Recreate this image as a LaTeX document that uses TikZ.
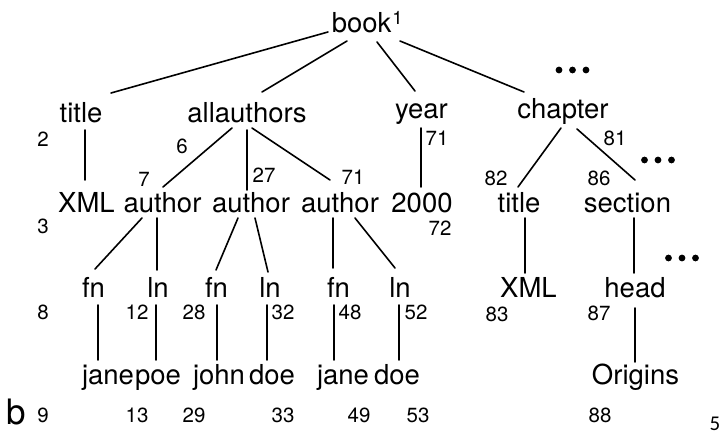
\documentclass[tikz,border=0pt]{standalone}
\usepackage{fontspec}
\setmainfont{TeX Gyre Heros}
\newfontfamily\pagefont{Carlito}
\usetikzlibrary{calc}
\newcommand\edgeln[4]{\draw ($(#1)+(#2)$) -- ($(#3)+(#4)$);}
\newcommand\threedots[1]{\foreach \d in {-13.5,0,13.5} \fill ($(#1)+(\d,0)$) circle (3.4);}
\begin{document}
\begin{tikzpicture}[x=1pt,y=-1pt,
  lbl/.style={font=\fontsize{27.5}{30}\selectfont, inner sep=0pt, anchor=base},
  num/.style={font=\fontsize{20.5}{22}\selectfont, inner sep=0pt},
  every path/.style={line width=1.6pt, line cap=round}]
\useasboundingbox (0,0) rectangle (724,435);
% row 1
\node[lbl, anchor=base west] (book) at (331,33) {book\kern1pt\raisebox{8pt}{\fontsize{18.5}{19}\selectfont 1}};
% row 2
\node[lbl] (t1) at (81,123) {title};
\node[lbl] (all) at (247,123) {allauthors};
\node[lbl] (year) at (421.5,119) {year};
\node[lbl] (chap) at (563,119) {chapter};
% row 3
\node[lbl] (xml1) at (86.5,213) {XML};
\node[lbl] (au1) at (162.5,213) {author};
\node[lbl] (au2) at (251,213) {author};
\node[lbl] (au3) at (340,213) {author};
\node[lbl] (y2000) at (422,213) {2000};
\node[lbl] (t2) at (519,213) {title};
\node[lbl] (sec) at (627.5,213) {section};
% row 4
\node[lbl] (fn1) at (93.5,298) {fn};
\node[lbl] (ln1) at (158,298) {ln};
\node[lbl] (fn2) at (216.5,298) {fn};
\node[lbl] (ln2) at (270,298) {ln};
\node[lbl] (fn3) at (338.5,298) {fn};
\node[lbl] (ln3) at (400,298) {ln};
\node[lbl] (xml2) at (528.5,298) {XML};
\node[lbl] (head) at (635,298) {head};
% row 5
\node[lbl] (jane1) at (108,385) {jane};
\node[lbl] (poe) at (158,385) {poe};
\node[lbl] (john) at (219,385) {john};
\node[lbl] (doe1) at (272,385) {doe};
\node[lbl] (jane2) at (343,385) {jane};
\node[lbl] (doe2) at (397,385) {doe};
\node[lbl] (orig) at (635.5,385) {Origins};
% b and page number
\node[inner sep=0pt, anchor=base west, font=\fontsize{35}{36}\selectfont] (blabel) at (6,425) {b};
\node[inner sep=0pt, anchor=base east, font=\pagefont\fontsize{21}{23}\selectfont] (pagenum) at (721,431) {5};
% numbers
\node[num] (n2) at (43,139) {2};
\node[num] (n6) at (182,146) {6};
\node[num] (n7) at (144,179) {7};
\node[num] (n27) at (264,175) {27};
\node[num] (n71a) at (353,177) {71};
\node[num] (n71b) at (437,138) {71};
\node[num] (n81) at (615,138) {81};
\node[num] (n82) at (496,178) {82};
\node[num] (n86) at (599,178) {86};
\node[num] (n3) at (43,226) {3};
\node[num] (n72) at (440,228) {72};
\node[num] (n8) at (43,312) {8};
\node[num] (n12) at (137,312) {12};
\node[num] (n28) at (194,312) {28};
\node[num] (n32) at (283,312) {32};
\node[num] (n48) at (350,312) {48};
\node[num] (n52) at (416,312) {52};
\node[num] (n83) at (497,314) {83};
\node[num] (n87) at (599,313) {87};
\node[num] (n9) at (43,415) {9};
\node[num] (n13) at (137,415) {13};
\node[num] (n29) at (194,415) {29};
\node[num] (n33) at (283,415) {33};
\node[num] (n49) at (359,415) {49};
\node[num] (n53) at (418,415) {53};
\node[num] (n88) at (600,415) {88};
% ellipses
\coordinate (dotsA) at (572.5,70);
\coordinate (dotsB) at (658,160);
\coordinate (dotsC) at (682,258);
\threedots{dotsA}
\threedots{dotsB}
\threedots{dotsC}
% connectors
\edgeln{book.base west}{-3,-1}{t1.base}{30,-30}
\edgeln{book.base west}{16,8}{all.base}{15,-31}
\edgeln{book.base west}{46,9}{year.base}{-6.5,-28}
\edgeln{book.base west}{69,8}{chap.base}{-39,-27}
\edgeln{t1.base}{4,7}{xml1.base}{-1.5,-33}
\edgeln{all.base}{-15,5}{au1.base}{0.5,-26}
\edgeln{all.base}{0,7}{au2.base}{-4,-23}
\edgeln{all.base}{5,5}{au3.base}{-10,-33}
\edgeln{year.base}{-0.5,9}{y2000.base}{-1,-26}
\edgeln{chap.base}{-2,9}{t2.base}{-1,-26}
\edgeln{chap.base}{14,10}{sec.base}{7.5,-33}
\edgeln{t2.base}{6,5}{xml2.base}{-3.5,-25}
\edgeln{sec.base}{6.5,5}{head.base}{-1,-25}
\edgeln{au1.base}{-20.5,5}{fn1.base}{1.5,-29}
\edgeln{au1.base}{-5.5,5}{ln1.base}{-1,-28}
\edgeln{au2.base}{-13,5}{fn2.base}{-0.5,-28}
\edgeln{au2.base}{4,5}{ln2.base}{-2,-26}
\edgeln{au3.base}{-7,5}{fn3.base}{-5.5,-30}
\edgeln{au3.base}{15,5}{ln3.base}{-5,-30}
\edgeln{fn1.base}{4.5,7}{jane1.base}{-10,-25}
\edgeln{ln1.base}{-2,7}{poe.base}{-2,-25}
\edgeln{fn2.base}{0.5,7}{john.base}{-2,-25}
\edgeln{ln2.base}{-3,7}{doe1.base}{-5,-25}
\edgeln{fn3.base}{-4.5,7}{jane2.base}{-9,-25}
\edgeln{ln3.base}{-1,7}{doe2.base}{2,-25}
\edgeln{head.base}{0,10}{orig.base}{-0.5,-23}
\end{tikzpicture}
\end{document}
